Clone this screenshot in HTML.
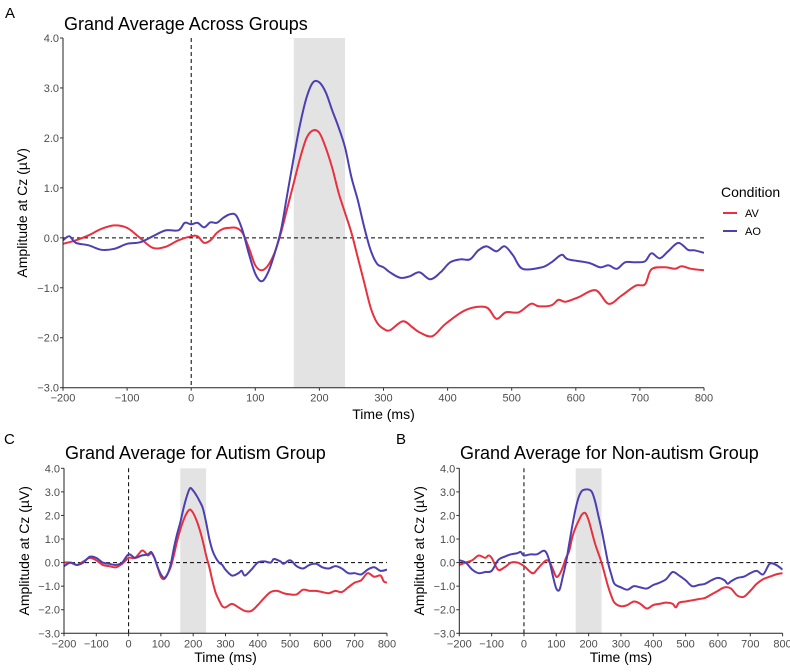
<!DOCTYPE html>
<html><head><meta charset="utf-8"><style>
body{margin:0;background:#fff;}
svg{display:block;font-family:"Liberation Sans",sans-serif;}
.tk{font-size:11px;fill:#4d4d4d;}
</style></head><body>
<svg id="fig" width="790" height="672" viewBox="0 0 790 672"></svg>
<script>
// ---- Data (ms, µV) ----
const xTicks = [-200,-100,0,100,200,300,400,500,600,700,800];
const yTicks = [4,3,2,1,0,-1,-2,-3];
const shadeWindow = [160,240];

const mainAV_t = [-200,-180,-160,-140,-120,-100,-80,-60,-40,-20,0,10,20,30,40,50,60,70,80,90,100,110,120,130,140,150,160,170,180,190,200,210,220,230,240,250,260,270,280,290,300,310,330,345,356,376,397,429,460,476,491,511,530,542,562,573,584,604,631,651,671,693,708,718,739,755,765,780,800];
const mainAV_v = [-0.12,-0.05,0.05,0.18,0.25,0.2,0.0,-0.2,-0.18,-0.05,0.03,0.03,-0.1,-0.05,0.1,0.18,0.2,0.2,0.1,-0.2,-0.55,-0.65,-0.55,-0.3,0.1,0.6,1.1,1.6,2.0,2.15,2.1,1.8,1.4,0.9,0.5,0.1,-0.4,-0.9,-1.4,-1.7,-1.82,-1.85,-1.67,-1.79,-1.89,-1.97,-1.72,-1.44,-1.39,-1.62,-1.49,-1.49,-1.32,-1.37,-1.35,-1.24,-1.28,-1.19,-1.05,-1.32,-1.16,-0.96,-0.93,-0.63,-0.59,-0.62,-0.57,-0.62,-0.65];
const mainAO_t = [-200,-190,-180,-160,-140,-120,-100,-80,-60,-40,-20,-10,0,10,20,30,40,50,60,70,80,90,100,110,120,130,140,150,160,170,180,190,200,210,220,230,240,250,260,270,280,290,300,310,326,341,356,373,389,404,420,435,448,461,476,489,502,517,547,562,578,588,620,638,651,664,677,693,708,718,731,744,760,775,785,800];
const mainAO_v = [-0.05,0.03,-0.1,-0.15,-0.24,-0.22,-0.12,-0.09,0.03,0.15,0.15,0.3,0.27,0.3,0.21,0.31,0.3,0.4,0.47,0.45,0.15,-0.32,-0.72,-0.87,-0.69,-0.32,0.15,0.88,1.61,2.28,2.81,3.11,3.11,2.91,2.55,2.21,1.81,1.21,0.75,0.21,-0.25,-0.52,-0.59,-0.69,-0.8,-0.77,-0.69,-0.83,-0.69,-0.49,-0.43,-0.43,-0.25,-0.17,-0.27,-0.17,-0.35,-0.62,-0.59,-0.49,-0.34,-0.43,-0.5,-0.59,-0.55,-0.62,-0.49,-0.49,-0.47,-0.31,-0.41,-0.27,-0.1,-0.24,-0.25,-0.3];

const cAV_t = [-200,-180,-160,-140,-120,-100,-80,-60,-40,-20,0,20,40,50,60,70,80,90,100,110,120,130,140,150,160,170,180,190,200,210,220,230,240,250,260,270,280,290,300,320,340,360,380,400,420,440,460,480,500,520,540,560,580,600,620,640,660,680,700,720,740,760,780,790,800];
const cAV_v = [0.0,0.0,-0.1,0.05,0.2,0.1,-0.1,-0.15,-0.2,-0.05,0.2,0.2,0.5,0.45,0.3,0.4,0.2,-0.2,-0.6,-0.7,-0.5,-0.2,0.3,0.9,1.4,1.8,2.1,2.25,2.1,1.8,1.4,0.9,0.3,-0.2,-0.8,-1.3,-1.6,-1.85,-1.9,-1.75,-1.9,-2.05,-2.05,-1.8,-1.5,-1.25,-1.2,-1.3,-1.35,-1.35,-1.15,-1.2,-1.2,-1.25,-1.3,-1.2,-1.25,-1.05,-0.85,-0.75,-0.45,-0.6,-0.55,-0.8,-0.85];
const cAO_t = [-200,-180,-160,-140,-120,-100,-80,-60,-40,-20,0,20,40,60,70,80,90,100,110,120,130,140,150,160,170,180,190,200,210,220,230,240,250,260,270,280,290,300,320,340,350,360,380,400,420,440,450,470,480,500,520,540,560,580,600,620,640,660,680,700,720,740,760,780,800];
const cAO_v = [-0.15,0.0,-0.1,0.0,0.25,0.2,0.0,-0.05,-0.1,0.0,0.35,0.2,0.3,0.35,0.45,0.2,-0.2,-0.5,-0.65,-0.5,-0.1,0.6,1.2,1.7,2.3,2.8,3.15,3.05,2.85,2.6,2.3,1.7,1.0,0.5,0.2,0.0,-0.1,-0.3,-0.55,-0.45,-0.35,-0.55,-0.3,0.0,0.05,0.0,0.15,0.05,-0.05,0.1,-0.15,-0.25,-0.1,-0.05,-0.2,-0.25,-0.15,-0.25,-0.45,-0.45,-0.5,-0.3,-0.2,-0.35,-0.3];

const bAV_t = [-200,-180,-160,-140,-120,-110,-100,-80,-60,-40,-20,0,20,30,40,60,70,80,90,100,110,120,130,140,150,160,170,180,190,200,210,220,230,240,250,260,270,280,300,320,340,360,380,400,420,440,460,470,480,500,520,540,560,580,600,620,640,660,680,700,720,740,760,780,800];
const bAV_v = [-0.1,0.0,0.1,0.3,0.2,0.3,0.2,-0.3,-0.2,0.0,0.0,-0.15,-0.4,-0.45,-0.3,0.0,0.1,0.0,-0.3,-0.6,-0.5,-0.2,0.2,0.5,1.1,1.5,1.8,2.05,2.1,1.8,1.3,0.8,0.4,0.0,-0.5,-1.0,-1.4,-1.7,-1.85,-1.8,-1.65,-1.75,-1.95,-1.8,-1.75,-1.7,-1.75,-1.9,-1.7,-1.65,-1.6,-1.55,-1.5,-1.35,-1.2,-1.05,-1.1,-1.4,-1.45,-1.2,-0.9,-0.7,-0.6,-0.5,-0.45];
const bAO_t = [-200,-180,-160,-140,-120,-100,-80,-60,-40,-20,-10,0,20,40,60,70,80,90,100,110,120,130,140,150,160,170,180,190,200,210,220,230,240,250,260,270,280,300,320,340,360,380,400,420,440,460,480,500,520,540,560,580,600,620,630,640,660,680,700,720,740,760,780,800];
const bAO_v = [0.1,0.0,-0.3,-0.45,-0.4,-0.35,0.1,0.25,0.35,0.4,0.45,0.3,0.35,0.35,0.5,0.4,0.0,-0.6,-1.1,-1.15,-0.6,0.0,0.8,1.6,2.3,2.8,3.05,3.1,3.1,3.0,2.6,2.0,1.4,0.7,0.0,-0.5,-0.9,-1.05,-1.15,-1.0,-1.05,-1.1,-0.95,-0.85,-0.7,-0.4,-0.55,-0.75,-1.0,-0.95,-0.9,-0.75,-0.65,-0.75,-0.9,-0.8,-0.65,-0.6,-0.45,-0.35,-0.5,-0.05,-0.1,-0.3];

const RED = "#e8303f", BLUE = "#4b3fb2";
const NS = "http://www.w3.org/2000/svg";
const svg = document.getElementById('fig');

function mk(tag, attrs, parent, text){
  const e = document.createElementNS(NS, tag);
  for (const k in attrs) e.setAttribute(k, attrs[k]);
  if (text !== undefined) e.textContent = text;
  (parent || svg).appendChild(e);
  return e;
}
function smoothPath(pts){
  let d = "M" + pts[0][0].toFixed(2) + "," + pts[0][1].toFixed(2);
  for (let i = 0; i < pts.length - 1; i++){
    const p0 = pts[i-1] || pts[i], p1 = pts[i], p2 = pts[i+1], p3 = pts[i+2] || p2;
    const c1x = p1[0] + (p2[0]-p0[0])/6, c1y = p1[1] + (p2[1]-p0[1])/6;
    const c2x = p2[0] - (p3[0]-p1[0])/6, c2y = p2[1] - (p3[1]-p1[1])/6;
    d += " C" + c1x.toFixed(2)+","+c1y.toFixed(2)+" "+c2x.toFixed(2)+","+c2y.toFixed(2)+" "+p2[0].toFixed(2)+","+p2[1].toFixed(2);
  }
  return d;
}

function panel(opt){
  const g = mk('g', {});
  
  
  const xS = ms => opt.x0 + (ms + 200) / 1000 * (opt.x1 - opt.x0);
  const yS = v => opt.y0 + (4 - v) / 7 * (opt.y1 - opt.y0);
  const clipId = opt.name + '-clip';
  const defs = mk('defs', {}, g);
  const cp = mk('clipPath', {id: clipId}, defs);
  mk('rect', {x: opt.x0, y: opt.y0 - 2, width: Math.min(opt.x1, 790) - opt.x0, height: opt.y1 - opt.y0 + 4}, cp);

  const sh = mk('rect', {x: xS(shadeWindow[0]), y: opt.y0, width: xS(shadeWindow[1]) - xS(shadeWindow[0]), height: opt.y1 - opt.y0, fill: '#e3e3e3'}, g);
  
  
  const hz = mk('line', {x1: opt.x0, x2: opt.x1, y1: yS(0), y2: yS(0), stroke: '#000', 'stroke-width': 1, 'stroke-dasharray': '4,3'}, g);
  
  
  const vz = mk('line', {x1: xS(0), x2: xS(0), y1: opt.y0, y2: opt.y1, stroke: '#000', 'stroke-width': 1, 'stroke-dasharray': '4,3'}, g);
  
  

  opt.series.forEach(s => {
    const pts = s.t.map((t, i) => [xS(t), yS(s.v[i])]);
    const p = mk('path', {d: smoothPath(pts), fill: 'none', stroke: s.color, 'stroke-width': 2, 'stroke-linejoin': 'round', 'clip-path': 'url(#' + clipId + ')'}, g);
    
    
  });

  const ax = mk('path', {d: `M${opt.x0},${opt.y0} V${opt.y1} H${opt.x1}`, fill: 'none', stroke: '#222', 'stroke-width': 1}, g);
  
  

  yTicks.forEach(v => {
    mk('line', {x1: opt.x0 - 3, x2: opt.x0, y1: yS(v), y2: yS(v), stroke: '#333'}, g);
    const t = mk('text', {x: opt.x0 - 4, y: yS(v) + 4, 'text-anchor': 'end', class: 'tk'}, g, (v < 0 ? '\u2212' + (-v).toFixed(1) : v.toFixed(1)));
    
    
  });
  xTicks.forEach(ms => {
    const x = xS(ms);
    mk('line', {x1: x, x2: x, y1: opt.y1, y2: opt.y1 + 3, stroke: '#333'}, g);
    const t = mk('text', {x: x, y: opt.y1 + 14, 'text-anchor': 'middle', class: 'tk'}, g, (ms < 0 ? '\u2212' + (-ms) : '' + ms));
    
    
  });

  const tt = mk('text', {x: opt.titleX, y: opt.titleY, 'font-size': 18, fill: '#000'}, g, opt.title);
  
  
  const lt = mk('text', {x: opt.letterX, y: opt.letterY, 'font-size': 15, fill: '#000'}, g, opt.letter);
  
  
  const xt = mk('text', {x: (opt.x0 + opt.x1) / 2, y: opt.xTitleY, 'text-anchor': 'middle', 'font-size': 14, fill: '#000'}, g, 'Time (ms)');
  
  
  const ycx = opt.yTitleX, ycy = (opt.y0 + opt.y1) / 2;
  const yt = mk('text', {x: ycx, y: ycy, 'text-anchor': 'middle', 'font-size': 14, fill: '#000', transform: `rotate(-90 ${ycx} ${ycy})`, dy: '5'}, g, 'Amplitude at Cz (\u00b5V)');
  
  
}

panel({name: 'main-panel', x0: 63, x1: 704, y0: 38, y1: 387.7,
  title: 'Grand Average Across Groups', titleX: 64, titleY: 30, letter: 'A', letterX: 5, letterY: 18,
  xTitleY: 419, yTitleX: 22,
  series: [{name: 'av-line-main', t: mainAV_t, v: mainAV_v, color: RED}, {name: 'ao-line-main', t: mainAO_t, v: mainAO_v, color: BLUE}]});
panel({name: 'autism-panel', x0: 64, x1: 387, y0: 468.3, y1: 633.3,
  title: 'Grand Average for Autism Group', titleX: 65, titleY: 459, letter: 'C', letterX: 4, letterY: 444,
  xTitleY: 662, yTitleX: 24,
  series: [{name: 'av-line-autism', t: cAV_t, v: cAV_v, color: RED}, {name: 'ao-line-autism', t: cAO_t, v: cAO_v, color: BLUE}]});
panel({name: 'non-autism-panel', x0: 459.3, x1: 782.6, y0: 468.3, y1: 633.3,
  title: 'Grand Average for Non-autism Group', titleX: 460, titleY: 459, letter: 'B', letterX: 396, letterY: 444,
  xTitleY: 662, yTitleX: 419,
  series: [{name: 'av-line-nonautism', t: bAV_t, v: bAV_v, color: RED}, {name: 'ao-line-nonautism', t: bAO_t, v: bAO_v, color: BLUE}]});

// legend
const lg = mk('g', {});


mk('text', {x: 721, y: 197, 'font-size': 14, fill: '#000'}, lg, 'Condition');
const l1 = mk('line', {x1: 723, x2: 737, y1: 213, y2: 213, stroke: RED, 'stroke-width': 2}, lg);


mk('text', {x: 745, y: 217, 'font-size': 11, fill: '#000'}, lg, 'AV');
const l2 = mk('line', {x1: 723, x2: 737, y1: 231, y2: 231, stroke: BLUE, 'stroke-width': 2}, lg);


mk('text', {x: 745, y: 235, 'font-size': 11, fill: '#000'}, lg, 'AO');
</script>
</body></html>
